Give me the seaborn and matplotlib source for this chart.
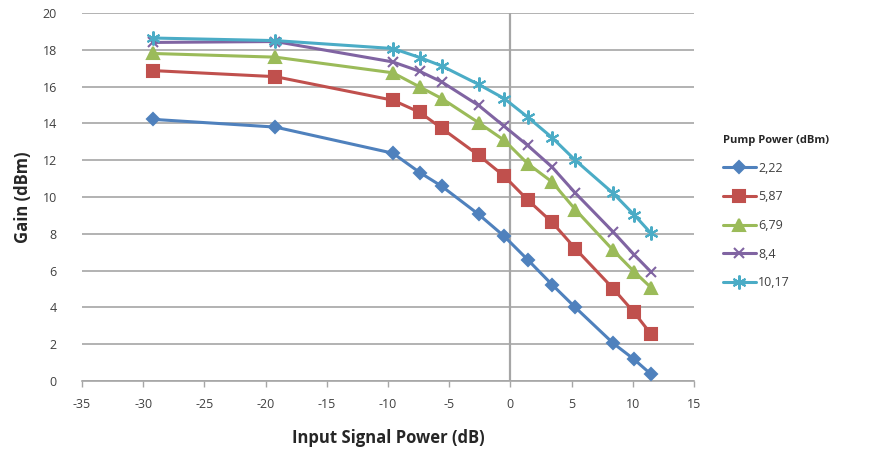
import matplotlib
matplotlib.use("Agg")
import matplotlib.pyplot as plt
import seaborn as sns
import numpy as np
import pandas as pd

# Input signal power (dB)
x_vals = [-29.2, -19.2, -9.6, -7.4, -5.6, -2.6, -0.5, 1.4, 3.4, 5.3, 8.4, 10.1, 11.5]

# Gain (dBm) per pump power
gain_222 = [14.22, 13.8, 12.38, 11.33, 10.58, 9.06, 7.86, 6.6, 5.24, 4.0, 2.05, 1.18, 0.36]
gain_587 = [16.87, 16.54, 15.26, 14.6, 13.73, 12.27, 11.13, 9.85, 8.63, 7.2, 5.02, 3.73, 2.54]
gain_679 = [17.8, 17.6, 16.75, 15.98, 15.35, 14.04, 13.08, 11.82, 10.82, 9.32, 7.1, 5.95, 5.07]
gain_84 = [18.4, 18.45, 17.34, 16.83, 16.25, 14.98, 13.84, 12.81, 11.63, 10.22, 8.1, 6.87, 5.92]
gain_1017 = [18.64, 18.5, 18.07, 17.58, 17.12, 16.12, 15.35, 14.35, 13.23, 12.0, 10.2, 9.04, 8.02]

pump_labels = ["2,22", "5,87", "6,79", "8,4", "10,17"]
series = [gain_222, gain_587, gain_679, gain_84, gain_1017]

colors = ["#4F81BD", "#C0504D", "#9BBB59", "#8064A2", "#4BACC6"]
markers = ["D", "s", "^", "x", (6, 2, 0)]
msizes = [6, 8, 8, 7, 10]

sns.set_theme(style="white")
plt.rcParams["font.family"] = ["Open Sans", "DejaVu Sans"]
plt.rcParams["axes.unicode_minus"] = False

fig = plt.figure(figsize=(8.75, 4.54), dpi=100)
ax = fig.add_axes([82 / 875, 1 - 381 / 454, (694 - 82) / 875, (381 - 13) / 454])

for lab, ys, c, m, ms in zip(pump_labels, series, colors, markers, msizes):
    df = pd.DataFrame({"x": x_vals, "y": ys})
    sns.lineplot(data=df, x="x", y="y", ax=ax, color=c, marker=m, markersize=ms,
                 linewidth=2.2, label=lab, markeredgecolor=c, markeredgewidth=1.5,
                 zorder=3)

ax.set_xlim(-35, 15)
ax.set_ylim(0, 20)
ax.set_xticks(np.arange(-35, 16, 5))
ax.set_yticks(np.arange(0, 21, 2))
ax.grid(axis="y", color="#a6a6a6", linewidth=1.2)
ax.grid(axis="x", visible=False)
for s in ["top", "right", "left"]:
    ax.spines[s].set_visible(False)
ax.spines["bottom"].set_color("#a6a6a6")
ax.spines["bottom"].set_linewidth(1.2)
ax.axvline(0, color="#a6a6a6", linewidth=1.6, zorder=1)
ax.tick_params(axis="x", bottom=True, length=4, width=1, color="#a6a6a6",
               labelsize=9, labelcolor="#404040", pad=8)
ax.tick_params(axis="y", left=False, labelsize=9, labelcolor="#404040", pad=12)

ax.set_xlabel("Input Signal Power (dB)", fontsize=12, fontweight="bold",
              color="#262626", labelpad=13)
ax.set_ylabel("Gain (dBm)", fontsize=12, fontweight="bold", color="#262626",
              labelpad=8)

ax.get_legend().remove()
handles, labels = ax.get_legend_handles_labels()
leg = fig.legend(handles, labels, title="Pump Power (dBm)", loc="upper left",
                 bbox_to_anchor=(718 / 875, 1 - 130 / 454), frameon=False,
                 fontsize=9, title_fontproperties={"weight": "bold", "size": 8},
                 labelspacing=1.25, handlelength=2.6, handletextpad=0.2,
                 borderaxespad=0)
leg._legend_box.align = "left"
for t in leg.get_texts():
    t.set_color("#404040")

fig.savefig("out.png", dpi=100)
